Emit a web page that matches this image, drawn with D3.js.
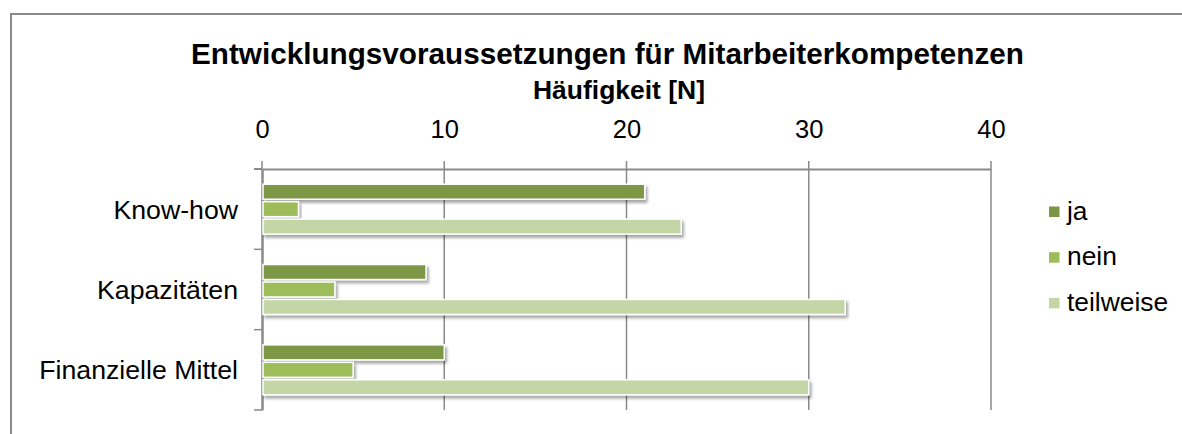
<!DOCTYPE html>
<html><head><meta charset="utf-8">
<script src="https://cdn.jsdelivr.net/npm/d3@7"></script>
<style>body{margin:0;background:#fff}svg{display:block;font-family:"Liberation Sans",Arial,sans-serif}</style>
</head><body>
<svg id="c" width="1182" height="434"></svg>
<script>
const categories = ["Know-how", "Kapazitäten", "Finanzielle Mittel"];
const seriesNames = ["ja", "nein", "teilweise"];
const ja = [21, 9, 10];
const nein = [2, 4, 5];
const teilweise = [23, 32, 30];
const tickValues = [0, 10, 20, 30, 40];
const colors = ["#7B9745", "#9DBD5A", "#C4D6A6"];

const svg = d3.select("#c");
const defs = svg.append("defs");
const f = defs.append("filter").attr("id","sh").attr("x","-5%").attr("y","-40%").attr("width","115%").attr("height","200%");
f.append("feDropShadow").attr("dx",2).attr("dy",3).attr("stdDeviation",1.8).attr("flood-color","#000").attr("flood-opacity",0.35);

// frame
svg.append("rect").attr("x",11).attr("y",14).attr("width",1200).attr("height",440)
  .attr("fill","none").attr("stroke","#8a8a8a").attr("stroke-width",2);

svg.append("text").attr("x",191).attr("y",64)
  .attr("font-size",29.5).attr("font-weight","bold")
  .attr("textLength",833).attr("lengthAdjust","spacingAndGlyphs")
  .text("Entwicklungsvoraussetzungen für Mitarbeiterkompetenzen");
svg.append("text").attr("x",533).attr("y",99)
  .attr("font-size",25).attr("font-weight","bold")
  .attr("textLength",172).attr("lengthAdjust","spacingAndGlyphs")
  .text("Häufigkeit [N]");

const x = d3.scaleLinear().domain([0,40]).range([262,991]);
const y = d3.scaleBand().domain(categories).range([169,410]);
const yInner = d3.scaleBand().domain(seriesNames).range([0,y.bandwidth()]).paddingInner(0.14).paddingOuter(0.87);

// gridlines
svg.append("g").selectAll("line").data(tickValues.slice(1)).join("line")
  .attr("x1",d=>x(d)).attr("x2",d=>x(d)).attr("y1",161).attr("y2",410)
  .attr("stroke","#8a8a8a").attr("stroke-width",1.5);

// top axis
const ax = svg.append("g").attr("transform","translate(0,169)")
  .call(d3.axisTop(x).tickValues(tickValues).tickSize(0).tickPadding(31).tickFormat(d3.format("d")));
ax.select(".domain").attr("stroke","#8a8a8a").attr("stroke-width",2);
ax.selectAll("text").attr("font-size",25.5).attr("font-family","'Liberation Sans',Arial,sans-serif").attr("fill","#000");
svg.append("line").attr("x1",254).attr("x2",262).attr("y1",169).attr("y2",169).attr("stroke","#8a8a8a").attr("stroke-width",2);
svg.append("line").attr("x1",262).attr("x2",262).attr("y1",161).attr("y2",169).attr("stroke","#8a8a8a").attr("stroke-width",1.5);

// left axis
const ly = svg.append("g").attr("transform","translate(262,0)")
  .call(d3.axisLeft(y).tickSize(0).tickPadding(24));
ly.select(".domain").attr("stroke","#8a8a8a").attr("stroke-width",2.5);
ly.selectAll("text").attr("font-size",26.7).attr("dy","0.36em").attr("font-family","'Liberation Sans',Arial,sans-serif").attr("fill","#000");
svg.append("g").selectAll("line").data(categories).join("line")
  .attr("x1",254).attr("x2",262).attr("y1",d=>y(d)+y.bandwidth()).attr("y2",d=>y(d)+y.bandwidth())
  .attr("stroke","#8a8a8a").attr("stroke-width",1.5);

// bars
const data = [];
categories.forEach((c,i)=>{
  [ja,nein,teilweise].forEach((arr,j)=>data.push({c, s:seriesNames[j], v:arr[i], col:colors[j]}));
});
svg.append("g").selectAll("rect").data(data).join("rect")
  .attr("x",x(0)+1).attr("y",d=>y(d.c)+yInner(d.s))
  .attr("width",d=>x(d.v)-x(0)-1).attr("height",yInner.bandwidth())
  .attr("fill",d=>d.col).attr("stroke","#fff").attr("stroke-width",1.5)
  .attr("filter","url(#sh)");

// legend
const lg = svg.append("g").selectAll("g").data(seriesNames).join("g")
  .attr("transform",(d,i)=>`translate(1049,${219.5+i*45.7})`);
lg.append("rect").attr("x",0).attr("y",-13).attr("width",10.5).attr("height",10.5).attr("fill",(d,i)=>colors[i]);
lg.append("text").attr("x",18).attr("y",0).attr("font-size",26.4).text(d=>d);
</script>
</body></html>
